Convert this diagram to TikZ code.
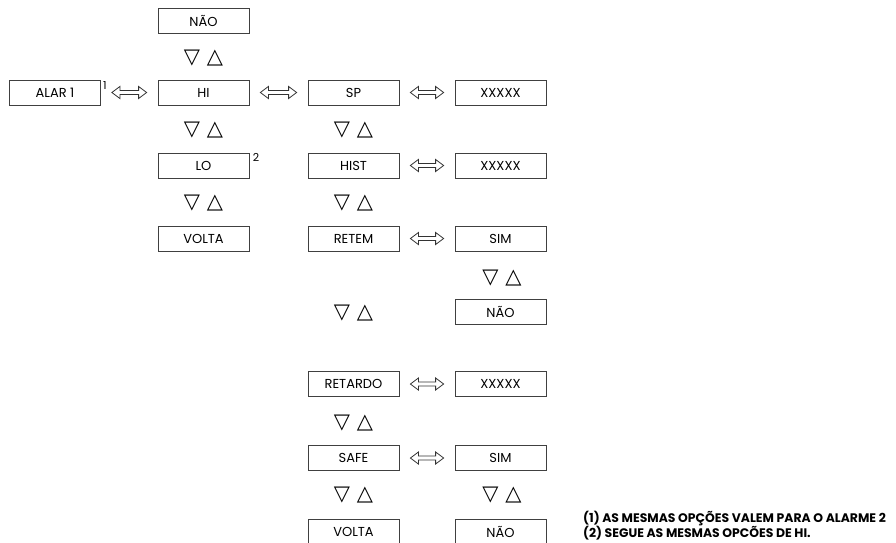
\documentclass[tikz,border=0pt]{standalone}
\usepackage{fontspec}
\setmainfont{Poppins}
\newfontfamily\symfont{DejaVu Sans}
\usetikzlibrary{calc}
\newcommand{\boxfont}{\fontsize{13}{14}\selectfont}
\newcommand{\trifont}{\symfont\fontsize{21}{22}\selectfont}
\tikzset{
  box/.style={draw=black!75, line width=0.8pt, minimum width=91pt, minimum height=25pt, inner sep=0pt, font=\boxfont},
  tri/.style={font=\trifont, inner sep=0pt},
  dbl/.style={draw=black!80, line width=0.8pt, line join=miter},
  sup/.style={font=\fontsize{11}{12}\selectfont, inner sep=0pt},
  note/.style={font=\bfseries\fontsize{12.4}{14}\selectfont, inner sep=0pt, anchor=west}
}
% hollow double-headed arrow from node #1 to node #2
\newcommand{\dblarrow}[2]{%
  \draw[dbl] let \p1=([xshift=11pt]#1.east), \p2=([xshift=-11pt]#2.west) in
    (\x1,\y1) -- (\x1+8pt,\y1+6pt) -- (\x1+8pt,\y1+2pt) -- (\x2-8pt,\y1+2pt)
    -- (\x2-8pt,\y1+6pt) -- (\x2,\y1) -- (\x2-8pt,\y1-6pt) -- (\x2-8pt,\y1-2pt)
    -- (\x1+8pt,\y1-2pt) -- (\x1+8pt,\y1-6pt) -- cycle;}
\begin{document}
\begin{tikzpicture}[x=1pt,y=-1pt]
\useasboundingbox (0,0) rectangle (896,542);
% column 1
\node[box] (nao1) at (203.5,20.5) {NÃO};
\node[tri] (t1) at (203.5,58) {▽\hspace{7pt}△};
\node[box] (alar) at (55,92.5) {ALAR 1};
\node[sup] (s1) at (105,86) {1};
\node[box] (hi) at (203.5,92.5) {HI};
\node[tri] (t2) at (203.5,130) {▽\hspace{7pt}△};
\node[box] (lo) at (203.5,165.5) {LO};
\node[sup] (s2) at (256,157) {2};
\node[tri] (t3) at (203.5,203) {▽\hspace{7pt}△};
\node[box] (volta1) at (203.5,238.5) {VOLTA};
% column 2
\node[box] (sp) at (353.5,92.5) {SP};
\node[tri] (t4) at (353.5,130) {▽\hspace{7pt}△};
\node[box] (hist) at (353.5,165.5) {HIST};
\node[tri] (t5) at (353.5,203) {▽\hspace{7pt}△};
\node[box] (retem) at (353.5,238.5) {RETEM};
\node[tri] (t6) at (353.5,313) {▽\hspace{7pt}△};
\node[box] (retardo) at (353.5,384) {RETARDO};
\node[tri] (t7) at (353.5,423) {▽\hspace{7pt}△};
\node[box] (safe) at (353.5,458) {SAFE};
\node[tri] (t8) at (353.5,495) {▽\hspace{7pt}△};
\node[box] (volta2) at (353.5,531.5) {VOLTA};
% column 3
\node[box] (x1) at (500.5,92.5) {XXXXX};
\node[box] (x2) at (500.5,165.5) {XXXXX};
\node[box] (sim1) at (500.5,238.5) {SIM};
\node[tri] (t9) at (502,278) {▽\hspace{7pt}△};
\node[box] (nao2) at (500.5,311.5) {NÃO};
\node[box] (x3) at (500.5,384) {XXXXX};
\node[box] (sim2) at (500.5,458) {SIM};
\node[tri] (t10) at (502,495) {▽\hspace{7pt}△};
\node[box] (nao3) at (500.5,531.5) {NÃO};
% connectors
\dblarrow{alar}{hi}
\dblarrow{hi}{sp}
\dblarrow{sp}{x1}
\dblarrow{hist}{x2}
\dblarrow{retem}{sim1}
\dblarrow{retardo}{x3}
\dblarrow{safe}{sim2}
% notes
\node[note] (n1) at (583,519) {(1) AS MESMAS OPÇÕES VALEM PARA O ALARME 2};
\node[note] (n2) at (583,533) {(2) SEGUE AS MESMAS OPCÕES DE HI.};
\end{tikzpicture}
\end{document}
